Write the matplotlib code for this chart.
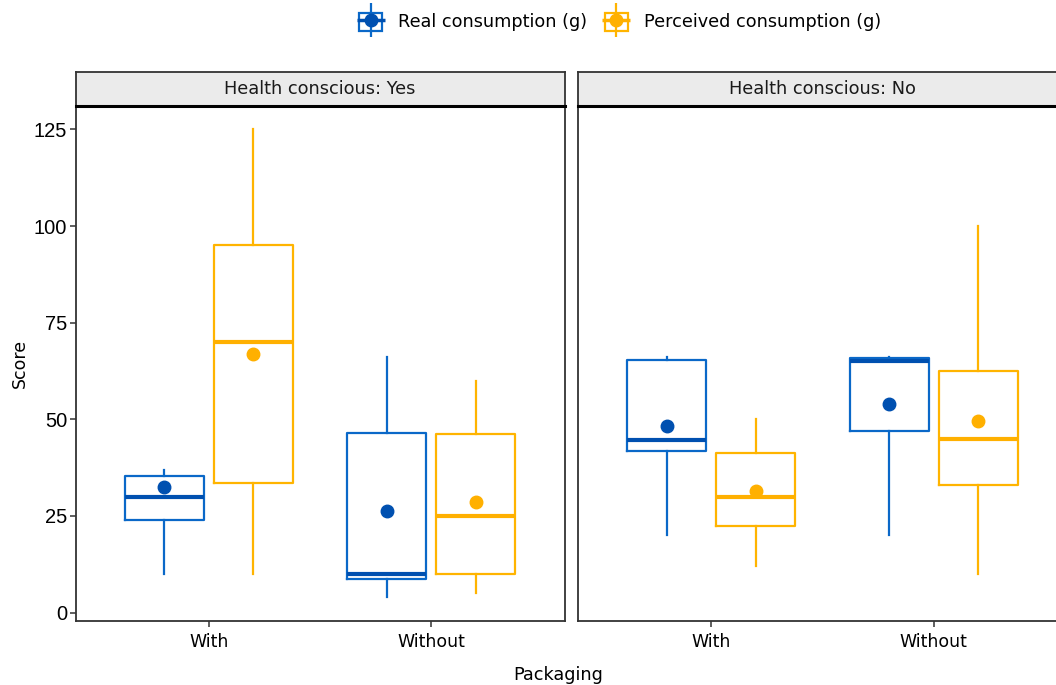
import matplotlib
matplotlib.use("Agg")
import matplotlib.pyplot as plt
from matplotlib.patches import Rectangle
from matplotlib.lines import Line2D
from matplotlib.legend_handler import HandlerTuple

panels = ["Health conscious: Yes", "Health conscious: No"]
packaging = ["With", "Without"]
series = ["Real consumption (g)", "Perceived consumption (g)"]

# stats per panel -> per packaging -> [real, perceived]
# (whislo, q1, med, q3, whishi, mean)
stats_yes = {
    "With": [(10, 24, 30, 35.3, 37, 32.6), (10, 33.6, 70, 95, 125, 66.8)],
    "Without": [(4, 8.8, 10, 46.5, 66, 26.4), (5, 10, 25, 46.3, 60, 28.7)],
}
stats_no = {
    "With": [(20, 41.8, 44.6, 65.3, 66, 48.2), (12, 22.3, 30, 41.3, 50, 31.4)],
    "Without": [(20, 47.1, 65.2, 65.9, 66, 53.9), (10, 33.1, 45, 62.6, 100, 49.5)],
}
all_stats = [stats_yes, stats_no]

line_cols = ["#0A68C8", "#FFB400"]
dark_cols = ["#0050B0", "#FFB000"]

plt.rcParams['font.family'] = ['DejaVu Sans']

fig = plt.figure(figsize=(10.56, 6.85), dpi=100)
W, H = 1056, 685
panel_left = [75.5, 578]
panel_w = 489
ax_bottom, ax_top = 620.5, 106
strip_top = 72

axes = []
for i, (title, st) in enumerate(zip(panels, all_stats)):
    ax = fig.add_axes([panel_left[i] / W, 1 - ax_bottom / H, panel_w / W, (ax_bottom - ax_top) / H])
    axes.append(ax)
    for j, pk in enumerate(packaging):
        for k in range(2):
            wl, q1, med, q3, wh, mn = st[pk][k]
            pos = j + 1 + (-0.2 if k == 0 else 0.2)
            d = dict(whislo=wl, q1=q1, med=med, q3=q3, whishi=wh, mean=mn, fliers=[])
            ax.bxp([d], positions=[pos], widths=0.355, showcaps=False, showfliers=False,
                   showmeans=True, patch_artist=False,
                   boxprops=dict(color=line_cols[k], linewidth=1.6),
                   whiskerprops=dict(color=line_cols[k], linewidth=1.6),
                   medianprops=dict(color=dark_cols[k], linewidth=3.0, solid_capstyle='butt'),
                   meanprops=dict(marker='o', markerfacecolor=dark_cols[k],
                                  markeredgecolor=dark_cols[k], markersize=9))
    ax.set_xlim(0.4, 2.6)
    ax.set_ylim(-2.05, 131.05)
    ax.set_xticks([1, 2])
    ax.set_xticklabels(packaging, fontsize=12.5)
    ax.set_yticks([0, 25, 50, 75, 100, 125])
    if i == 0:
        ax.set_yticklabels(["0", "25", "50", "75", "100", "125"], fontsize=14.5,
                           family='Liberation Sans')
    else:
        ax.tick_params(axis='y', left=False, labelleft=False)
    for s in ax.spines.values():
        s.set_color("#333333")
        s.set_linewidth(1.3)
    ax.tick_params(axis='both', color="#333333", length=4, width=1.1)
    ax.tick_params(axis='x', pad=5)
    ax.tick_params(axis='y', pad=2)

    # facet strip
    sax = fig.add_axes([panel_left[i] / W, 1 - ax_top / H, panel_w / W, (ax_top - strip_top) / H])
    sax.set_facecolor("#EBEBEB")
    sax.set_xticks([])
    sax.set_yticks([])
    for s in sax.spines.values():
        s.set_color("#333333")
        s.set_linewidth(1.3)
    sax.spines['bottom'].set_linewidth(2.2)
    sax.spines['bottom'].set_color("black")
    sax.text(0.5, 0.5, title, ha='center', va='center', fontsize=12.8, color="#1A1A1A",
             transform=sax.transAxes)

fig.text(20 / W, 1 - 363 / H, "Score", rotation=90, ha='center', va='center', fontsize=12.5)
fig.text(558 / W, 1 - 675 / H, "Packaging", ha='center', va='center', fontsize=12.7)

handles = []
for k in range(2):
    box = Rectangle((0, 0), 1, 1, facecolor='none', edgecolor=line_cols[k], linewidth=1.6)
    vline = Line2D([], [], linestyle='none', marker='|', markersize=24, markeredgewidth=1.6,
                   color=line_cols[k])
    hline = Line2D([], [], linestyle='none', marker='_', markersize=20, markeredgewidth=2.5,
                   color=dark_cols[k])
    dot = Line2D([], [], linestyle='none', marker='o', markersize=9, color=dark_cols[k])
    handles.append((box, vline, hline, dot))

fig.legend(handles, series, loc='center', bbox_to_anchor=(620 / W, 1 - 22 / H), ncol=2,
           frameon=False, fontsize=12.7, handler_map={tuple: HandlerTuple(ndivide=1, pad=0)},
           handlelength=1.3, handleheight=1.2, columnspacing=1.0, handletextpad=0.9)

fig.savefig("out.png", dpi=100)
